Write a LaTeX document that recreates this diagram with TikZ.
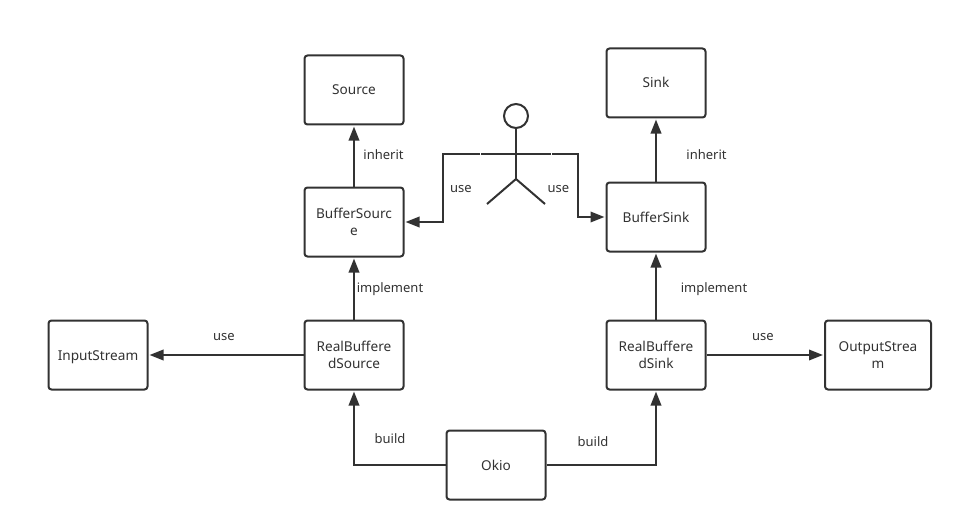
\documentclass[tikz,border=0pt]{standalone}
\usepackage{fontspec}
\setmainfont{Noto Sans}
\usepackage{xcolor}
\usetikzlibrary{arrows.meta,positioning,calc}
\definecolor{inkgray}{HTML}{323232}

\begin{document}
\begin{tikzpicture}[
  x=1pt,y=-1pt,
  every node/.style={text=inkgray},
  box/.style={rectangle,draw=inkgray,line width=2pt,rounded corners=3pt,align=center,minimum width=99pt,minimum height=69pt,inner sep=0pt,fill=white,font=\fontsize{13.6}{16.6}\selectfont},
  oneline/.style={box,text height=11pt,text depth=1pt},
  msg/.style={-{Triangle[length=14pt,width=10.5pt]},draw=inkgray,line width=2pt,shorten >=1pt},
  limb/.style={draw=inkgray,line width=2pt},
  lbl/.style={inner sep=0pt,font=\fontsize{13}{17}\selectfont}]
\useasboundingbox (0,0) rectangle (963,532);
\node[oneline] (source) at (354,90) {Source};
\node[box,below=61pt of source] (bufSource) {BufferSourc\\e};
\node[box,below=62pt of bufSource] (realSource) {RealBuffere\\dSource};
\node[oneline,left=155pt of realSource] (input) {InputStream};
\node[oneline] (okio) at (496,465) {Okio};
\node[oneline] (sink) at (656,83) {Sink};
\node[oneline,below=63pt of sink] (bufSink) {BufferSink};
\node[box,below=67pt of bufSink] (realSink) {RealBuffere\\dSink};
\node[box,right=117.5pt of realSink,minimum width=106pt] (output) {OutputStrea\\m};
% actor
\node[circle,draw=inkgray,line width=2pt,minimum size=24pt,inner sep=0pt] (head) at (516,116) {};
\coordinate (hip) at (516,179);
\coordinate (armL) at (481,153.5);
\coordinate (armR) at (551,153.5);
\coordinate (footL) at (487,204);
\coordinate (footR) at (545,204);
\draw[limb] (head.south) -- (hip);
\draw[limb] (footL) -- (hip) -- (footR);
\draw[limb] (armL) -- (armR);
% connectors
\draw[msg] (bufSource) -- (source);
\draw[msg] (realSource) -- (bufSource);
\draw[msg] (realSource) -- (input);
\draw[msg] (bufSink) -- (sink);
\draw[msg] (realSink) -- (bufSink);
\draw[msg] (realSink) -- (output);
\draw[msg] (okio) -| (realSource);
\draw[msg] (okio) -| (realSink);
\draw[msg] ([xshift=-.8pt]armL) -- (443,153.5) |- (bufSource);
\draw[msg] ([xshift=.8pt]armR) -- (578,153.5) |- (bufSink);
% labels
\node[lbl] (inheritL) at (383.5,155) {inherit};
\node[lbl] (inheritR) at (706.5,155) {inherit};
\node[lbl] (useActorL) at (461,189) {use};
\node[lbl] (useActorR) at (558.5,189) {use};
\node[lbl] (implementL) at (390,289) {implement};
\node[lbl] (implementR) at (714,289) {implement};
\node[lbl] (useInput) at (224,337) {use};
\node[lbl] (useOutput) at (763,337) {use};
\node[lbl] (buildL) at (390,439) {build};
\node[lbl] (buildR) at (593,442) {build};
\end{tikzpicture}
\end{document}
